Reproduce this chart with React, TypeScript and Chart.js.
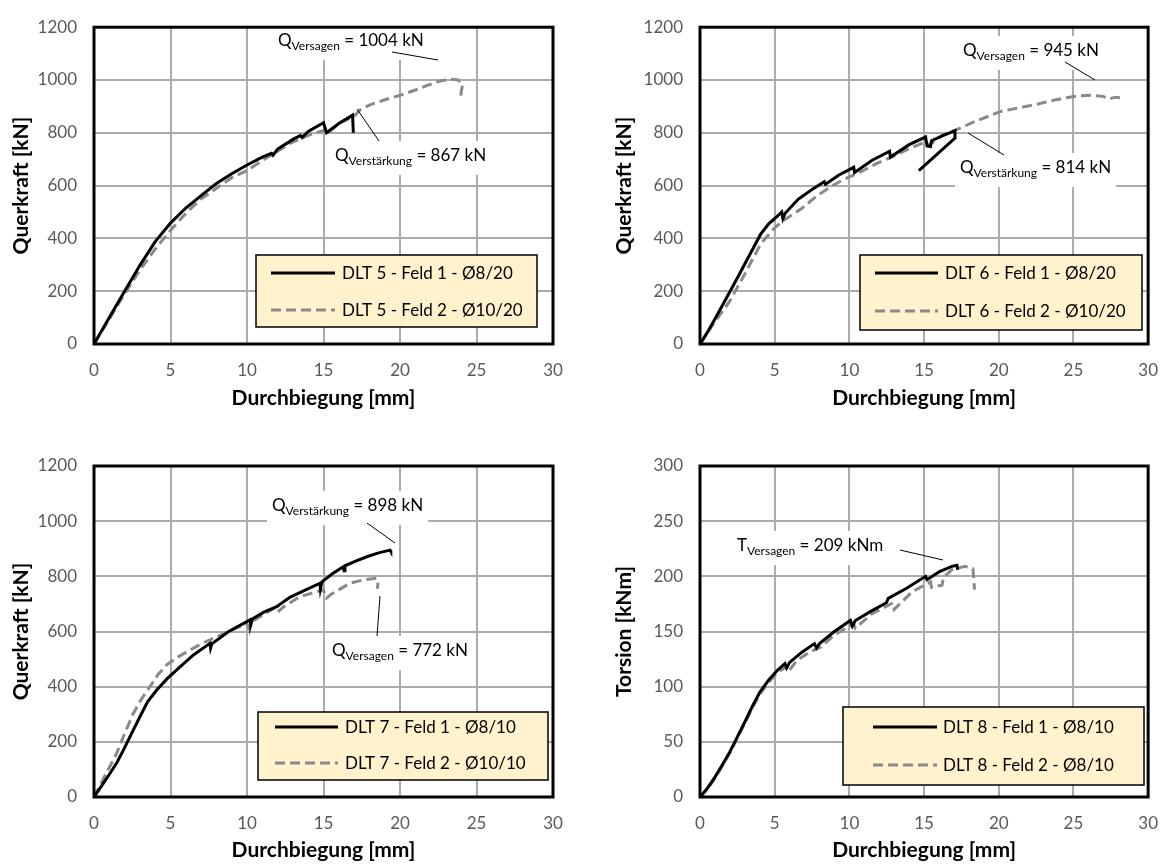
import React, { useEffect, useRef } from "react";
import { Chart, registerables } from "chart.js";

Chart.register(...registerables);

// ---------- data ----------
const xTickStep = 5;
const xMax = 30;

// DLT 5
const dlt5Feld1X = [0, 0.5, 1, 2, 3, 4, 5, 6, 7, 8, 9, 10, 11, 11.6, 11.7, 12, 13, 13.5, 13.6, 14, 15, 15.2, 16, 16.9, 16.95];
const dlt5Feld1Y = [0, 50, 100, 200, 298, 388, 458, 515, 562, 608, 645, 678, 708, 722, 715, 738, 775, 790, 782, 805, 838, 800, 835, 867, 800];
const dlt5Feld2X = [0, 1, 2, 3, 4, 5, 6, 7, 7.6, 8, 9, 10, 11, 12, 12.8, 14, 15, 15.2, 16, 17, 17.4, 18, 19, 20, 21, 21.7, 22.6, 23.4, 23.8, 24.1, 24, 23.97];
const dlt5Feld2Y = [0, 95, 190, 280, 360, 430, 495, 550, 572, 590, 630, 657, 695, 730, 760, 790, 809, 795, 835, 863, 887, 905, 925, 942, 962, 978, 996, 1003, 1000, 984, 955, 936];

// DLT 6
const dlt6Feld1X = [0, 0.5, 1, 1.75, 2.5, 3.3, 4.05, 4.6, 5.2, 5.47, 5.55, 5.7, 6.57, 7.5, 8.32, 8.4, 9.3, 10.29, 10.35, 11.5, 12.69, 12.75, 14, 15.1, 15.2, 15.43, 15.5, 16.3, 17.07, 17.07, 14.65];
const dlt6Feld1Y = [0, 45, 95, 172, 250, 335, 415, 455, 485, 500, 475, 495, 548, 585, 615, 605, 640, 669, 650, 695, 730, 708, 755, 784, 750, 748, 770, 790, 808, 780, 657];
const dlt6Feld2X = [0, 1, 1.97, 3, 4.05, 5, 5.47, 6.78, 7.8, 8.75, 9.7, 10.72, 11.8, 12.92, 14, 15.1, 15.3, 16.2, 17.29, 18.5, 20.14, 21.2, 22.3, 23.4, 24.5, 25.4, 26.26, 27, 27.36, 27.8, 28.45];
const dlt6Feld2Y = [0, 85, 160, 265, 378, 440, 463, 512, 560, 596, 625, 651, 683, 711, 740, 766, 752, 790, 815, 845, 881, 893, 905, 920, 933, 940, 942, 938, 928, 935, 930];

// DLT 7
const dlt7Feld1X = [0, 0.5, 1.05, 1.5, 1.92, 2.5, 3, 3.5, 4.1, 4.8, 5.62, 6.5, 7.58, 7.62, 7.7, 8.8, 10.2, 10.25, 10.35, 11.1, 11.94, 12.8, 13.8, 14.77, 14.8, 14.9, 15.6, 16.3, 16.35, 16.4, 17.1, 17.83, 18.6, 19.35, 19.4];
const dlt7Feld1Y = [0, 40, 86, 125, 170, 235, 291, 345, 388, 430, 472, 515, 557, 540, 555, 600, 642, 625, 645, 670, 690, 724, 750, 775, 755, 780, 810, 835, 820, 838, 855, 871, 885, 895, 890];
const dlt7Feld2X = [0, 0.7, 1.48, 2, 2.57, 3.1, 3.66, 4.2, 4.75, 5.5, 6.27, 7.1, 8, 9, 9.98, 10.1, 10.3, 11.1, 11.94, 12.1, 12.4, 13.46, 14.3, 14.99, 15.2, 15.5, 16.73, 17.6, 18.48, 18.55, 18.52];
const dlt7Feld2Y = [0, 75, 158, 230, 303, 355, 400, 445, 479, 508, 533, 558, 581, 605, 630, 615, 635, 662, 690, 675, 690, 726, 740, 751, 721, 735, 775, 787, 793, 772, 755];

// DLT 8
const dlt8Feld1X = [0, 0.5, 1, 1.53, 2, 2.41, 3, 3.5, 4, 4.6, 5.2, 5.69, 5.8, 6, 6.8, 7.66, 7.8, 8, 9, 10.07, 10.2, 10.4, 11.4, 12.48, 12.6, 13.8, 15.1, 15.2, 16, 16.86, 17.2, 17.25];
const dlt8Feld1Y = [0, 8, 18, 30, 41, 52, 68, 82, 95, 106, 115, 121, 117, 122, 131, 139, 135, 139, 150, 160, 155, 160, 168, 176, 180, 189, 200, 197, 204, 209, 210, 206];
const dlt8Feld2X = [0, 0.5, 1, 1.53, 2, 2.41, 3, 3.5, 4, 4.6, 5.2, 5.91, 6, 6.5, 7.3, 8.1, 9, 10.29, 10.4, 11.5, 12.92, 13, 14.2, 15.43, 15.5, 16.2, 16.3, 16.86, 17.73, 18.27, 18.38];
const dlt8Feld2Y = [0, 7, 17, 29, 40, 51, 67, 81, 93, 104, 113, 119, 115, 124, 131, 136, 147, 157, 153, 166, 176, 170, 186, 195, 190, 192, 199, 206, 209, 207, 188];

const legend5 = ["DLT 5 - Feld 1 - Ø8/20", "DLT 5 - Feld 2 - Ø10/20"];
const legend6 = ["DLT 6 - Feld 1 - Ø8/20", "DLT 6 - Feld 2 - Ø10/20"];
const legend7 = ["DLT 7 - Feld 1 - Ø8/10", "DLT 7 - Feld 2 - Ø10/10"];
const legend8 = ["DLT 8 - Feld 1 - Ø8/10", "DLT 8 - Feld 2 - Ø8/10"];

const xTitle = "Durchbiegung [mm]";
const yTitleQ = "Querkraft [kN]";
const yTitleT = "Torsion [kNm]";

// ---------- styling ----------
const FONT = "Lato, 'Open Sans', sans-serif";
const GRID = "#ababab";
const GRAY_LINE = "#8a8a8a";

type Ann = { main: string; sub: string; rest: string; x: number; y: number; lx1: number; ly1: number; lx2: number; ly2: number };

type Panel = {
  left: number; top: number; width: number; height: number;
  area: { l: number; t: number; r: number; b: number };
  yMax: number; yStep: number; yTitle: string;
  yTitlePad: number; xTitlePad: number;
  s1x: number[]; s1y: number[]; s2x: number[]; s2y: number[];
  names: string[];
  legendBox: { x1: number; y1: number; x2: number; y2: number; ly1: number; ly2: number; lineX1: number; lineX2: number; textX: number };
  anns: Ann[];
};

const panels: Panel[] = [
  {
    left: 0, top: 0, width: 587, height: 432,
    area: { l: 94, t: 14, r: 553, b: 344 },
    yMax: 1200, yStep: 200, yTitle: yTitleQ, yTitlePad: 9, xTitlePad: 21,
    s1x: dlt5Feld1X, s1y: dlt5Feld1Y, s2x: dlt5Feld2X, s2y: dlt5Feld2Y, names: legend5,
    legendBox: { x1: 256, y1: 255, x2: 537, y2: 327, ly1: 273, ly2: 310, lineX1: 271, lineX2: 335, textX: 342 },
    anns: [
      { main: "Q", sub: "Versagen", rest: " = 1004 kN", x: 278, y: 40, lx1: 392, ly1: 52, lx2: 438, ly2: 60 },
      { main: "Q", sub: "Verstärkung", rest: " = 867 kN", x: 335, y: 155, lx1: 357, ly1: 109, lx2: 379, ly2: 141 },
    ],
  },
  {
    left: 587, top: 0, width: 587, height: 432,
    area: { l: 113, t: 14, r: 570, b: 344 },
    yMax: 1200, yStep: 200, yTitle: yTitleQ, yTitlePad: 25, xTitlePad: 21,
    s1x: dlt6Feld1X, s1y: dlt6Feld1Y, s2x: dlt6Feld2X, s2y: dlt6Feld2Y, names: legend6,
    legendBox: { x1: 273, y1: 255, x2: 555, y2: 330, ly1: 273, ly2: 311, lineX1: 288, lineX2: 351, textX: 358 },
    anns: [
      { main: "Q", sub: "Versagen", rest: " = 945 kN", x: 376, y: 50, lx1: 478, ly1: 62, lx2: 508, ly2: 80 },
      { main: "Q", sub: "Verstärkung", rest: " = 814 kN", x: 373, y: 167, lx1: 381, ly1: 133, lx2: 417, ly2: 155 },
    ],
  },
  {
    left: 0, top: 432, width: 587, height: 433,
    area: { l: 94, t: 34, r: 553, b: 365 },
    yMax: 1200, yStep: 200, yTitle: yTitleQ, yTitlePad: 9, xTitlePad: 2,
    s1x: dlt7Feld1X, s1y: dlt7Feld1Y, s2x: dlt7Feld2X, s2y: dlt7Feld2Y, names: legend7,
    legendBox: { x1: 258, y1: 280, x2: 548, y2: 348, ly1: 295, ly2: 331, lineX1: 275, lineX2: 338, textX: 345 },
    anns: [
      { main: "Q", sub: "Verstärkung", rest: " = 898 kN", x: 272, y: 73, lx1: 367, ly1: 91, lx2: 395, ly2: 111 },
      { main: "Q", sub: "Versagen", rest: " = 772 kN", x: 332, y: 218, lx1: 380, ly1: 164, lx2: 377, ly2: 204 },
    ],
  },
  {
    left: 587, top: 432, width: 587, height: 433,
    area: { l: 113, t: 34, r: 570, b: 365 },
    yMax: 300, yStep: 50, yTitle: yTitleT, yTitlePad: 25, xTitlePad: 2,
    s1x: dlt8Feld1X, s1y: dlt8Feld1Y, s2x: dlt8Feld2X, s2y: dlt8Feld2Y, names: legend8,
    legendBox: { x1: 256, y1: 275, x2: 557, y2: 353, ly1: 295, ly2: 333, lineX1: 286, lineX2: 350, textX: 356 },
    anns: [
      { main: "T", sub: "Versagen", rest: " = 209 kNm", x: 150, y: 113, lx1: 313, ly1: 118, lx2: 356, ly2: 128 },
    ],
  },
];

function pts(xs: number[], ys: number[]) {
  return xs.map((x, i) => ({ x, y: ys[i] }));
}

function drawAnn(ctx: CanvasRenderingContext2D, a: Ann) {
  const big = `17px ${FONT}`;
  const small = `12px ${FONT}`;
  ctx.save();
  ctx.font = big;
  const w1 = ctx.measureText(a.main).width;
  const w3 = ctx.measureText(a.rest).width;
  ctx.font = small;
  const w2 = ctx.measureText(a.sub).width;
  const total = w1 + w2 + w3;
  ctx.fillStyle = "#ffffff";
  ctx.fillRect(a.x - 5, a.y - 14, total + 10, 34);
  ctx.fillStyle = "#000000";
  ctx.textAlign = "left";
  ctx.textBaseline = "alphabetic";
  const base = a.y + 6;
  ctx.font = big;
  ctx.fillText(a.main, a.x, base);
  ctx.font = small;
  ctx.fillText(a.sub, a.x + w1, base + 4);
  ctx.font = big;
  ctx.fillText(a.rest, a.x + w1 + w2, base);
  ctx.restore();
}

function ChartPanel({ p }: { p: Panel }) {
  const ref = useRef<HTMLCanvasElement | null>(null);
  useEffect(() => {
    if (!ref.current) return;
    const decor = {
      id: "decor",
      beforeDatasetsDraw(chart: any) {
        const ctx = chart.ctx as CanvasRenderingContext2D;
        p.anns.forEach((a) => drawAnn(ctx, a));
      },
      afterDatasetsDraw(chart: any) {
        const ctx = chart.ctx as CanvasRenderingContext2D;
        ctx.save();
        ctx.strokeStyle = "#000";
        ctx.lineWidth = 1;
        p.anns.forEach((a) => {
          ctx.beginPath();
          ctx.moveTo(a.lx1, a.ly1);
          ctx.lineTo(a.lx2, a.ly2);
          ctx.stroke();
        });
        const lb = p.legendBox;
        ctx.fillStyle = "#fff2cc";
        ctx.fillRect(lb.x1, lb.y1, lb.x2 - lb.x1, lb.y2 - lb.y1);
        ctx.strokeStyle = "#000";
        ctx.lineWidth = 1.5;
        ctx.strokeRect(lb.x1, lb.y1, lb.x2 - lb.x1, lb.y2 - lb.y1);
        const ds = chart.data.datasets;
        [lb.ly1, lb.ly2].forEach((ly, i) => {
          ctx.beginPath();
          ctx.strokeStyle = ds[i].borderColor;
          ctx.lineWidth = 3;
          ctx.setLineDash(ds[i].borderDash || []);
          ctx.moveTo(lb.lineX1, ly);
          ctx.lineTo(lb.lineX2, ly);
          ctx.stroke();
          ctx.setLineDash([]);
          ctx.fillStyle = "#000";
          ctx.font = `17px ${FONT}`;
          ctx.textBaseline = "middle";
          ctx.textAlign = "left";
          ctx.fillText(ds[i].label, lb.textX, ly + 1);
        });
        ctx.restore();
      },
      afterDraw(chart: any) {
        const ctx = chart.ctx as CanvasRenderingContext2D;
        const ca = chart.chartArea;
        ctx.save();
        ctx.strokeStyle = "#000";
        ctx.lineWidth = 3;
        ctx.strokeRect(ca.left, ca.top, ca.right - ca.left, ca.bottom - ca.top);
        ctx.restore();
      },
    };
    const chart = new Chart(ref.current, {
      type: "scatter",
      data: {
        datasets: [
          {
            label: p.names[0],
            data: pts(p.s1x, p.s1y),
            showLine: true,
            borderColor: "#000000",
            borderWidth: 3,
            pointRadius: 0,
            tension: 0,
          },
          {
            label: p.names[1],
            data: pts(p.s2x, p.s2y),
            showLine: true,
            borderColor: GRAY_LINE,
            borderWidth: 3,
            borderDash: [10, 5],
            pointRadius: 0,
            tension: 0,
          },
        ],
      },
      options: {
        responsive: false,
        animation: false,
        devicePixelRatio: 1,
        layout: {
          padding: { left: 0, top: p.area.t, right: p.width - p.area.r, bottom: 0 },
        },
        plugins: { legend: { display: false }, tooltip: { enabled: false } },
        scales: {
          x: {
            type: "linear",
            min: 0,
            max: xMax,
            border: { display: false },
            grid: { color: GRID, lineWidth: 2, drawTicks: false },
            ticks: {
              stepSize: xTickStep,
              color: "#595959",
              font: { family: FONT, size: 17 },
              padding: 16,
              callback: (v: any) => String(v),
            },
            title: {
              display: true,
              text: xTitle,
              color: "#000",
              font: { family: FONT, size: 21, weight: "bold" },
              padding: { top: 0, bottom: p.xTitlePad },
            },
            afterFit: (s: any) => {
              s.height = p.height - p.area.b;
            },
          },
          y: {
            type: "linear",
            min: 0,
            max: p.yMax,
            border: { display: false },
            grid: { color: GRID, lineWidth: 2, drawTicks: false },
            ticks: {
              stepSize: p.yStep,
              color: "#595959",
              font: { family: FONT, size: 17 },
              padding: 17,
              callback: (v: any) => String(v),
            },
            title: {
              display: true,
              text: p.yTitle,
              color: "#000",
              font: { family: FONT, size: 21, weight: "bold" },
              padding: { top: p.yTitlePad, bottom: 0 },
            },
            afterFit: (s: any) => {
              s.width = p.area.l;
            },
          },
        },
      },
      plugins: [decor],
    } as any);
    return () => chart.destroy();
  }, [p]);
  return (
    <canvas
      ref={ref}
      width={p.width}
      height={p.height}
      style={{ position: "absolute", left: p.left, top: p.top, width: p.width, height: p.height, display: "block" }}
    />
  );
}

export default function App() {
  return (
    <div style={{ position: "absolute", left: 0, top: 0, width: 1174, height: 865, background: "#fff" }}>
      {panels.map((p, i) => (
        <ChartPanel key={i} p={p} />
      ))}
    </div>
  );
}
